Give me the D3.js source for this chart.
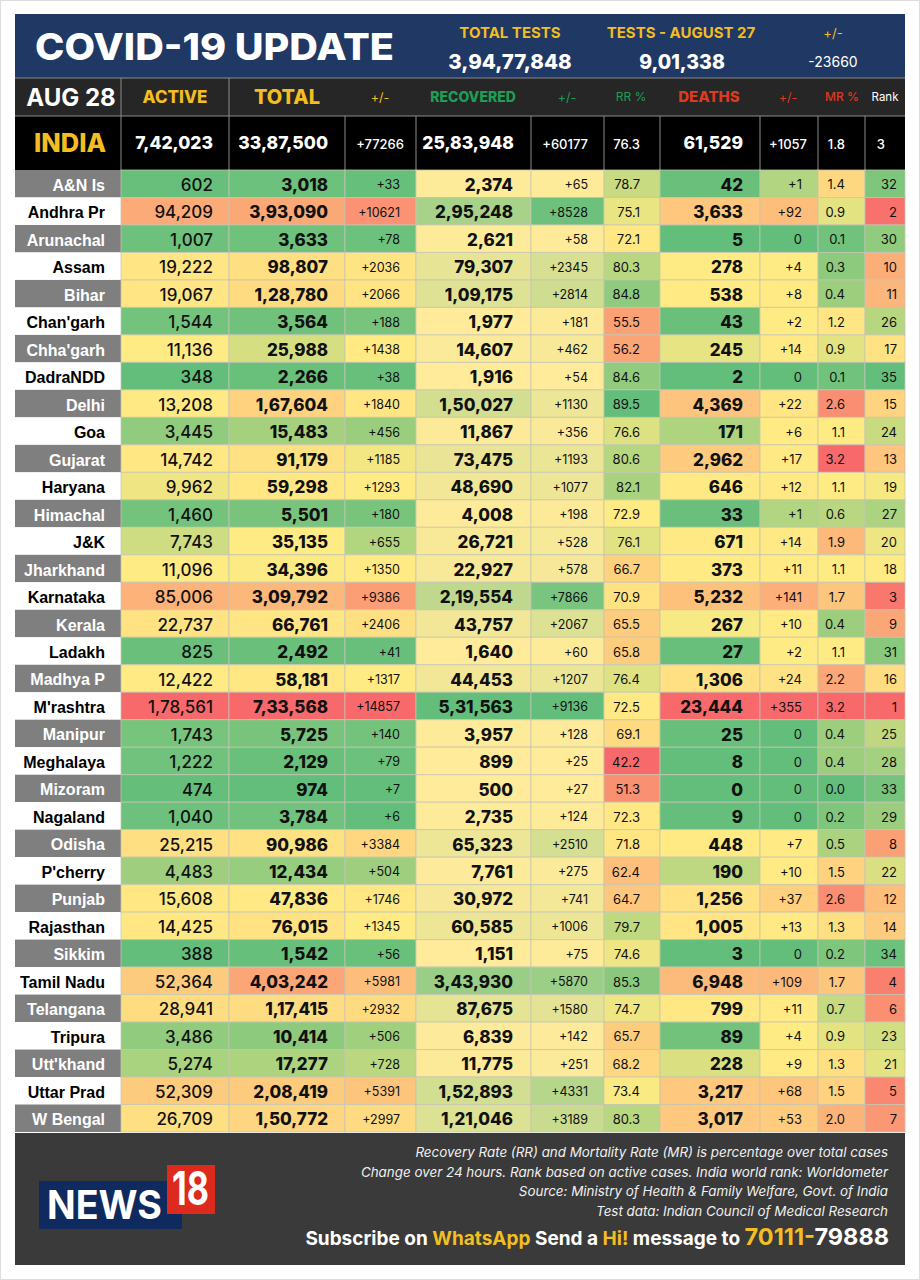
<!DOCTYPE html>
<html>
<head>
<meta charset="utf-8">
<script src="https://d3js.org/d3.v7.min.js"></script>
<style>
  html, body { margin: 0; padding: 0; background: #fff; }
  svg { display: block; }
  text { font-family: Inter, "Open Sans", sans-serif; }
  .state { font-family: "Liberation Sans", Arial, sans-serif; font-weight: 700; font-size: 16px; }
</style>
</head>
<body>
<div id="chart"></div>
<script>
// values
var states = ["A&N Is", "Andhra Pr", "Arunachal", "Assam", "Bihar", "Chan'garh", "Chha'garh", "DadraNDD", "Delhi", "Goa", "Gujarat", "Haryana", "Himachal", "J&K", "Jharkhand", "Karnataka", "Kerala", "Ladakh", "Madhya P", "M'rashtra", "Manipur", "Meghalaya", "Mizoram", "Nagaland", "Odisha", "P'cherry", "Punjab", "Rajasthan", "Sikkim", "Tamil Nadu", "Telangana", "Tripura", "Utt'khand", "Uttar Prad", "W Bengal"];
var active = [602, 94209, 1007, 19222, 19067, 1544, 11136, 348, 13208, 3445, 14742, 9962, 1460, 7743, 11096, 85006, 22737, 825, 12422, 178561, 1743, 1222, 474, 1040, 25215, 4483, 15608, 14425, 388, 52364, 28941, 3486, 5274, 52309, 26709];
var total = [3018, 393090, 3633, 98807, 128780, 3564, 25988, 2266, 167604, 15483, 91179, 59298, 5501, 35135, 34396, 309792, 66761, 2492, 58181, 733568, 5725, 2129, 974, 3784, 90986, 12434, 47836, 76015, 1542, 403242, 117415, 10414, 17277, 208419, 150772];
var totalChange = [33, 10621, 78, 2036, 2066, 188, 1438, 38, 1840, 456, 1185, 1293, 180, 655, 1350, 9386, 2406, 41, 1317, 14857, 140, 79, 7, 6, 3384, 504, 1746, 1345, 56, 5981, 2932, 506, 728, 5391, 2997];
var recovered = [2374, 295248, 2621, 79307, 109175, 1977, 14607, 1916, 150027, 11867, 73475, 48690, 4008, 26721, 22927, 219554, 43757, 1640, 44453, 531563, 3957, 899, 500, 2735, 65323, 7761, 30972, 60585, 1151, 343930, 87675, 6839, 11775, 152893, 121046];
var recoveredChange = [65, 8528, 58, 2345, 2814, 181, 462, 54, 1130, 356, 1193, 1077, 198, 528, 578, 7866, 2067, 60, 1207, 9136, 128, 25, 27, 124, 2510, 275, 741, 1006, 75, 5870, 1580, 142, 251, 4331, 3189];
var recoveryRate = [78.7, 75.1, 72.1, 80.3, 84.8, 55.5, 56.2, 84.6, 89.5, 76.6, 80.6, 82.1, 72.9, 76.1, 66.7, 70.9, 65.5, 65.8, 76.4, 72.5, 69.1, 42.2, 51.3, 72.3, 71.8, 62.4, 64.7, 79.7, 74.6, 85.3, 74.7, 65.7, 68.2, 73.4, 80.3];
var deaths = [42, 3633, 5, 278, 538, 43, 245, 2, 4369, 171, 2962, 646, 33, 671, 373, 5232, 267, 27, 1306, 23444, 25, 8, 0, 9, 448, 190, 1256, 1005, 3, 6948, 799, 89, 228, 3217, 3017];
var deathsChange = [1, 92, 0, 4, 8, 2, 14, 0, 22, 6, 17, 12, 1, 14, 11, 141, 10, 2, 24, 355, 0, 0, 0, 0, 7, 10, 37, 13, 0, 109, 11, 4, 9, 68, 53];
var mortalityRate = [1.4, 0.9, 0.1, 0.3, 0.4, 1.2, 0.9, 0.1, 2.6, 1.1, 3.2, 1.1, 0.6, 1.9, 1.1, 1.7, 0.4, 1.1, 2.2, 3.2, 0.4, 0.4, 0.0, 0.2, 0.5, 1.5, 2.6, 1.3, 0.2, 1.7, 0.7, 0.9, 1.3, 1.5, 2.0];
var rank = [32, 2, 30, 10, 11, 26, 17, 35, 15, 24, 13, 19, 27, 20, 18, 3, 9, 31, 16, 1, 25, 28, 33, 29, 8, 22, 12, 14, 34, 4, 6, 23, 21, 5, 7];

var indiaTotals = ["7,42,023", "33,87,500", "+77266", "25,83,948", "+60177", "76.3", "61,529", "+1057", "1.8", "3"];
var testHeaders = ["TOTAL TESTS", "TESTS - AUGUST 27", "+/-"];
var testValues = ["3,94,77,848", "9,01,338", "-23660"];
var notes = [
  "Recovery Rate (RR) and Mortality Rate (MR) is percentage over total cases",
  "Change over 24 hours. Rank based on active cases. India world rank: Worldometer",
  "Source: Ministry of Health & Family Welfare, Govt. of India",
  "Test data: Indian Council of Medical Research"
];

var width = 920, height = 1280;
var left = 15, right = 905;
var green = "#63BE7B", yellow = "#FFEB84", red = "#F8696B", paleYellow = "#FFEB9A";
var gold = "#F2BE22", recGreen = "#1E9E55", deathRed = "#DE3A1E";

// indian digit grouping, 1234567 -> 12,34,567
function lakh(n) {
  var s = String(n);
  if (s.length <= 3) return s;
  return s.slice(0, -3).replace(/\B(?=(\d{2})+$)/g, ",") + "," + s.slice(-3);
}
function plus(n) { return n === 0 ? "0" : "+" + n; }
function oneDec(n) { return n.toFixed(1); }

// excel style colour rules: low-mid-high, or two colours for recoveries
function threeColor(values, lowColor, highColor) {
  return d3.scaleLinear()
    .domain([d3.min(values), d3.median(values), d3.max(values)])
    .range([lowColor, yellow, highColor]);
}
function twoColor(values) {
  return d3.scaleLinear().domain(d3.extent(values)).range([paleYellow, green]);
}

// the two death columns don't follow the plain rule, stops
var deathsColor = d3.scaleLinear()
  .domain([0, 89, 278, 800, 3000, 7000, 23444])
  .range([green, "#72C27C", yellow, "#FFE884", "#FEC97E", "#FCBB7A", red]);
var deathsChangeColor = d3.scaleLinear()
  .domain([0, 2, 20, 37, 109, 355])
  .range([green, yellow, "#FFE884", "#FFD07E", "#FDB97A", red]);

var columns = [
  { values: active, x0: 121, x1: 229, right: 213, fmt: lakh, size: 17, weight: 500, color: threeColor(active, green, red) },
  { values: total, x0: 229, x1: 345, right: 328, fmt: lakh, size: 17, weight: 800, color: threeColor(total, green, red) },
  { values: totalChange, x0: 345, x1: 416, right: 400, fmt: plus, size: 12.5, weight: 400, color: threeColor(totalChange, green, red) },
  { values: recovered, x0: 416, x1: 531, right: 513, fmt: lakh, size: 17, weight: 800, color: twoColor(recovered) },
  { values: recoveredChange, x0: 531, x1: 604, right: 588, fmt: plus, size: 12.5, weight: 400, color: twoColor(recoveredChange) },
  { values: recoveryRate, x0: 604, x1: 660, right: 640, fmt: oneDec, size: 13, weight: 400, color: threeColor(recoveryRate, red, green) },
  { values: deaths, x0: 660, x1: 760, right: 743, fmt: lakh, size: 17, weight: 800, color: deathsColor },
  { values: deathsChange, x0: 760, x1: 818, right: 802, fmt: plus, size: 13, weight: 400, color: deathsChangeColor },
  { values: mortalityRate, x0: 818, x1: 865, right: 845, fmt: oneDec, size: 13, weight: 400, color: threeColor(mortalityRate, green, red) },
  { values: rank, x0: 865, x1: 905, right: 897, fmt: String, size: 13, weight: 400, color: threeColor(rank, red, green) }
];

var y = d3.scaleBand().domain(states).range([170, 1132]);

var svg = d3.select("#chart").append("svg")
  .attr("width", width)
  .attr("height", height);

svg.append("rect").attr("width", width).attr("height", height).attr("fill", "#fff");
svg.append("rect").attr("x", 0.5).attr("y", 0.5).attr("width", width - 1).attr("height", height - 1)
  .attr("fill", "none").attr("stroke", "#ddd");

// top banner
svg.append("rect").attr("x", left).attr("y", 14).attr("width", right - left).attr("height", 64).attr("fill", "#203864");
svg.append("text").attr("x", 35).attr("y", 60).attr("fill", "#fff")
  .attr("font-size", 37).attr("font-weight", 800).attr("textLength", 359).attr("lengthAdjust", "spacingAndGlyphs")
  .text("COVID-19 UPDATE");

svg.selectAll("text.testHead").data(testHeaders).enter().append("text")
  .attr("class", "testHead")
  .attr("x", function (d, i) { return [510, 681, 833][i]; })
  .attr("y", 38).attr("text-anchor", "middle").attr("fill", gold)
  .attr("font-size", function (d, i) { return i == 2 ? 13 : 15; })
  .attr("font-weight", function (d, i) { return i == 2 ? 400 : 700; })
  .text(function (d) { return d; });
svg.selectAll("text.testVal").data(testValues).enter().append("text")
  .attr("class", "testVal")
  .attr("x", function (d, i) { return [510, 682, 833][i]; })
  .attr("y", function (d, i) { return i == 2 ? 67 : 69; })
  .attr("text-anchor", "middle").attr("fill", "#fff")
  .attr("font-size", function (d, i) { return i == 0 ? 20.5 : i == 1 ? 19.5 : 14; })
  .attr("font-weight", function (d, i) { return i == 2 ? 400 : 800; })
  .text(function (d) { return d; });

// header row
svg.append("rect").attr("x", left).attr("y", 78).attr("width", right - left).attr("height", 38).attr("fill", "#262626");
var headerLabels = [
  { t: "AUG 28", x: 71, size: 24, w: 700, c: "#fff" },
  { t: "ACTIVE", x: 175, size: 17, w: 800, c: gold },
  { t: "TOTAL", x: 287, size: 20, w: 800, c: gold },
  { t: "+/-", x: 380, size: 12.5, w: 400, c: gold },
  { t: "RECOVERED", x: 473, size: 14, w: 800, c: recGreen },
  { t: "+/-", x: 567, size: 12.5, w: 400, c: recGreen },
  { t: "RR %", x: 631, size: 12, w: 400, c: recGreen },
  { t: "DEATHS", x: 709, size: 15, w: 800, c: deathRed },
  { t: "+/-", x: 788, size: 12.5, w: 400, c: deathRed },
  { t: "MR %", x: 842, size: 12, w: 500, c: deathRed },
  { t: "Rank", x: 885, size: 11.5, w: 400, c: "#fff" }
];
svg.selectAll("text.head").data(headerLabels).enter().append("text")
  .attr("class", "head")
  .attr("x", function (d) { return d.x; })
  .attr("y", function (d) { return 97 + d.size * 0.36; })
  .attr("text-anchor", "middle")
  .attr("fill", function (d) { return d.c; })
  .attr("font-size", function (d) { return d.size; })
  .attr("font-weight", function (d) { return d.w; })
  .text(function (d) { return d.t; });

// india row
svg.append("rect").attr("x", left).attr("y", 116).attr("width", right - left).attr("height", 54).attr("fill", "#000");
svg.append("text").attr("x", 70).attr("y", 152).attr("text-anchor", "middle").attr("fill", gold)
  .attr("font-size", 25.5).attr("font-weight", 800).text("INDIA");

var dividerColor = "#8a8a8a";
svg.selectAll("line.div").data(columns).enter().append("line")
  .attr("class", "div")
  .attr("x1", function (d) { return d.x0; }).attr("x2", function (d) { return d.x0; })
  .attr("y1", 116).attr("y2", 170)
  .attr("stroke", dividerColor);
svg.selectAll("line.div2").data(columns.slice(0, 2)).enter().append("line")
  .attr("class", "div2")
  .attr("x1", function (d) { return d.x0; }).attr("x2", function (d) { return d.x0; })
  .attr("y1", 78).attr("y2", 116)
  .attr("stroke", dividerColor);
svg.append("line").attr("x1", left).attr("x2", right).attr("y1", 78).attr("y2", 78).attr("stroke", dividerColor);
svg.append("line").attr("x1", left).attr("x2", right).attr("y1", 116).attr("y2", 116).attr("stroke", dividerColor);

svg.selectAll("text.india").data(columns).enter().append("text")
  .attr("class", "india")
  .attr("x", function (d, i) { return i == 2 ? 404 : i == 7 ? 807 : i == 9 ? 885 : d.right + (i == 3 ? 1 : 0); })
  .attr("y", 149)
  .attr("text-anchor", "end")
  .attr("fill", "#fff")
  .attr("font-size", function (d) { return d.size > 15 ? 17.5 : 13; })
  .attr("font-weight", function (d) { return d.size > 15 ? 800 : 500; })
  .text(function (d, i) { return indiaTotals[i]; });

// state labels
var rows = svg.selectAll("g.row").data(states).enter().append("g")
  .attr("class", "row")
  .attr("transform", function (d) { return "translate(0," + y(d) + ")"; });

rows.append("rect")
  .attr("x", left).attr("width", 121 - left).attr("height", y.bandwidth())
  .attr("fill", function (d, i) { return i % 2 == 0 ? "#7f7f7f" : "#fff"; });

rows.append("text")
  .attr("class", "state")
  .attr("x", 105)
  .attr("y", y.bandwidth() / 2 + 7)
  .attr("text-anchor", "end")
  .attr("fill", function (d, i) { return i % 2 == 0 ? "#fff" : "#000"; })
  .text(function (d) { return d; });

// heat cells, one group per column
columns.forEach(function (col) {
  var g = svg.append("g");
  g.selectAll("rect").data(col.values).enter().append("rect")
    .attr("x", col.x0)
    .attr("y", function (d, i) { return y(states[i]); })
    .attr("width", col.x1 - col.x0)
    .attr("height", y.bandwidth())
    .attr("fill", function (d) { return col.color(d); })
    .attr("stroke", "#c4c4b4")
    .attr("stroke-opacity", 0.75);
  g.selectAll("text").data(col.values).enter().append("text")
    .attr("x", col.right)
    .attr("y", function (d, i) { return y(states[i]) + y.bandwidth() / 2 + col.size * 0.36 + 1; })
    .attr("text-anchor", "end")
    .attr("fill", "#111")
    .attr("font-size", col.size)
    .attr("font-weight", col.weight)
    .text(function (d) { return col.fmt(d); });
});

// footer
svg.append("rect").attr("x", left).attr("y", 1133).attr("width", right - left).attr("height", 132).attr("fill", "#3a3a3a");

svg.selectAll("text.note").data(notes).enter().append("text")
  .attr("class", "note")
  .attr("x", 888)
  .attr("y", function (d, i) { return 1157 + i * 19.6; })
  .attr("text-anchor", "end")
  .attr("fill", "#f0f0f0")
  .attr("font-size", 13.4)
  .attr("font-style", "italic")
  .text(function (d) { return d; });

var sub = svg.append("text").attr("x", 889).attr("y", 1245).attr("text-anchor", "end")
  .attr("fill", "#fff").attr("font-size", 19).attr("font-weight", 700);
[["Subscribe on ", "#fff"], ["WhatsApp", gold], [" Send a ", "#fff"], ["Hi!", gold], [" message to ", "#fff"]].forEach(function (p) {
  sub.append("tspan").attr("fill", p[1]).text(p[0]);
});
sub.append("tspan").attr("fill", gold).attr("font-size", 23.5).text("70111-");
sub.append("tspan").attr("fill", "#fff").attr("font-size", 23.5).text("79888");

// news18 logo
svg.append("rect").attr("x", 39).attr("y", 1181).attr("width", 143).attr("height", 48).attr("fill", "#0F2A5E");
svg.append("rect").attr("x", 167).attr("y", 1165).attr("width", 48).attr("height", 49).attr("fill", "#DC2A1E");
svg.append("text").attr("x", 47).attr("y", 1219).attr("fill", "#fff")
  .attr("font-family", "Liberation Sans").attr("font-size", 39).attr("font-weight", 700)
  .attr("textLength", 115).attr("lengthAdjust", "spacingAndGlyphs").text("NEWS");
svg.append("text").attr("x", 172).attr("y", 1205).attr("fill", "#fff")
  .attr("font-family", "Liberation Sans").attr("font-size", 46).attr("font-weight", 700)
  .attr("textLength", 37).attr("lengthAdjust", "spacingAndGlyphs").text("18");
</script>
</body>
</html>
